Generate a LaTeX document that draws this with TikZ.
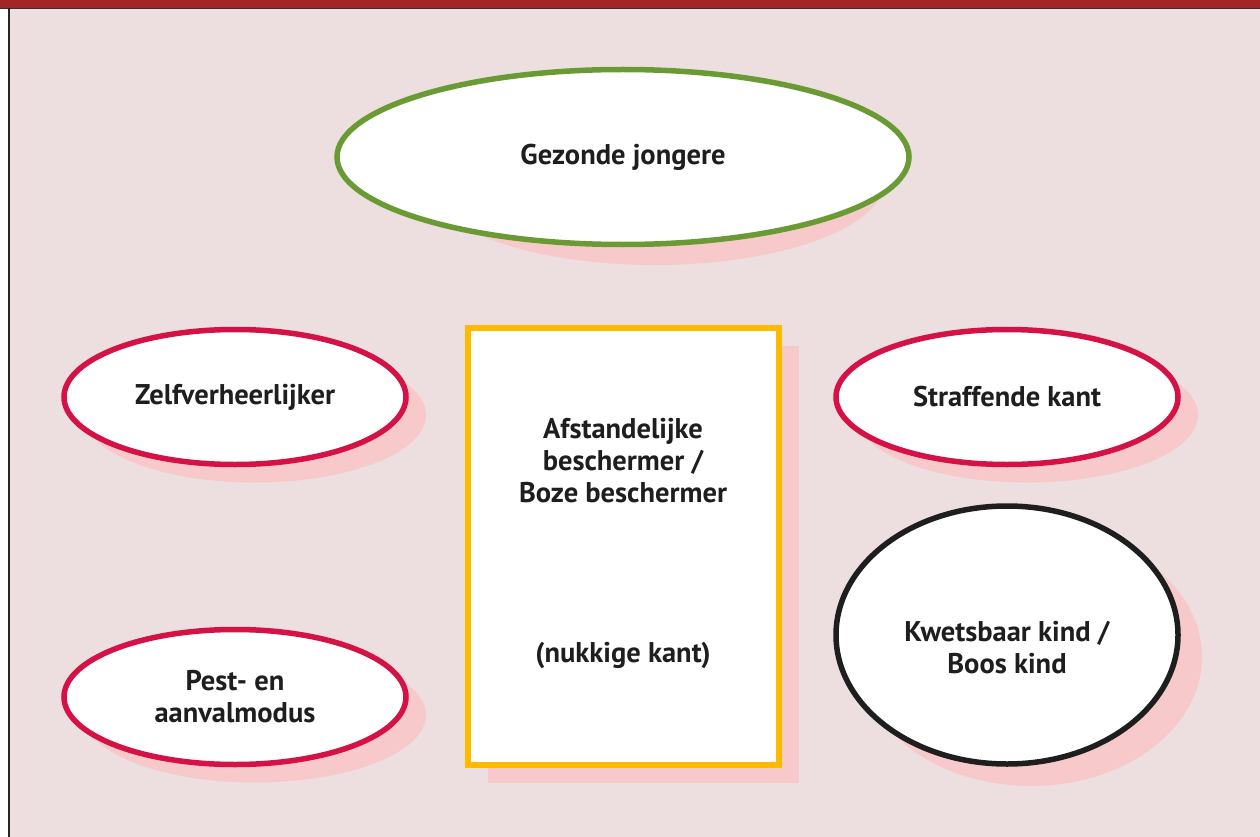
\documentclass[tikz,border=0pt]{standalone}
\usepackage{fontspec}
\setmainfont{PT Sans}
\usetikzlibrary{positioning, shapes.geometric, shadows}
\definecolor{barred}{HTML}{A32626}
\definecolor{bgpink}{HTML}{EDDEDF}
\definecolor{shadowpink}{HTML}{F7C9CB}
\definecolor{modered}{HTML}{D41245}
\definecolor{healthygreen}{HTML}{6A9A33}
\definecolor{guardyellow}{HTML}{FFBA00}
\definecolor{inkblack}{HTML}{1E1E1E}

\begin{document}
\begin{tikzpicture}[x=1pt, y=-1pt, font=\fontsize{28.5}{32}\selectfont\bfseries,
  mode/.style={ellipse, draw=modered, line width=5.5pt, fill=white, text=inkblack,
    align=center, inner sep=0pt, minimum width=342pt, minimum height=135pt},
  pinkshadow/.style={general shadow={fill=shadowpink, shadow xshift=20pt, shadow yshift=-18pt}},
  label/.style={text=inkblack, align=center, inner sep=0pt}]
\useasboundingbox (0,0) rectangle (1260,837);
% frame
\fill[bgpink] (9,9) rectangle (1260,837);
\fill[barred] (0,0) rectangle (1260,8);
\draw[line width=1.5pt, black!80] (0,8.5) -- (1260,8.5);
\draw[line width=2pt, black!85] (8.5,8.5) -- (8.5,837);

% modes
\fill[shadowpink] (655,180) ellipse [x radius=230pt, y radius=85pt];
\node[mode, draw=healthygreen, minimum width=572pt, minimum height=175pt]
  (gezond) at (623,157) {Gezonde jongere};
\node[mode, pinkshadow] (zelf) at (235,397) {Zelfverheerlijker};
\node[mode, pinkshadow] (pest) at (235,697) {Pest- en\\aanvalmodus};
\node[mode, pinkshadow] (straf) at (1007,397) {Straffende kant};
\node[mode, draw=inkblack, minimum height=258pt,
  general shadow={fill=shadowpink, shadow xshift=24pt, shadow yshift=-22pt}]
  (kind) at (1007,635) {};
\node[label] (kindtxt) at ([yshift=-13pt]kind.center) {Kwetsbaar kind /\\Boos kind};
\node[draw=guardyellow, line width=5.5pt, fill=white, minimum width=311pt, minimum height=437pt,
  inner sep=0pt, pinkshadow] (bsch) at (623.5,546.5) {};
\node[label] (afst) at (623,461) {Afstandelijke\\beschermer /\\Boze beschermer};
\node[label] (nukk) at (623,655) {(nukkige kant)};
\end{tikzpicture}
\end{document}
